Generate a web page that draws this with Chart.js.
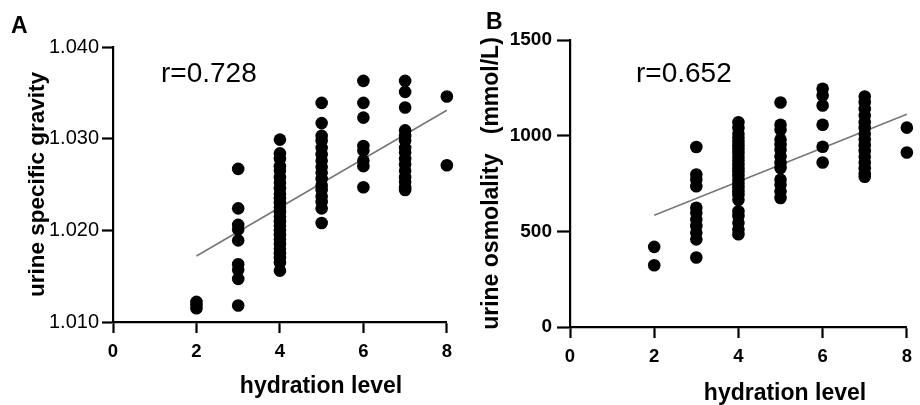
<!DOCTYPE html>
<html>
<head>
<meta charset="utf-8">
<script src="https://cdn.jsdelivr.net/npm/chart.js@4.4.1/dist/chart.umd.min.js"></script>
<style>
  body { margin: 0; background: #fff; }
  #wrap { position: relative; width: 920px; height: 405px; font-family: "Liberation Sans", Arial, sans-serif; color: #000; }
  canvas { position: absolute; top: 0; }
  #chartA { left: 0; }
  #chartB { left: 460px; }
  .panel { position: absolute; font-weight: bold; font-size: 23px; }
  .rval { position: absolute; font-size: 28px; }
  .xtitle { position: absolute; width: 240px; text-align: center; font-weight: bold; font-size: 23px; line-height: 24px; }
</style>
</head>
<body>
<div id="wrap">
  <canvas id="chartA" width="460" height="405"></canvas>
  <canvas id="chartB" width="460" height="405"></canvas>
  <div class="panel" style="left:11px;top:12px">A</div>
  <div class="panel" style="left:486px;top:8px">B</div>
  <div class="rval" style="left:161px;top:57px">r=0.728</div>
  <div class="rval" style="left:636px;top:57px">r=0.652</div>
  <div class="xtitle" style="left:201px;top:373px">hydration level</div>
  <div class="xtitle" style="left:665px;top:380px">hydration level</div>
</div>
<script>
// hydration levels (x) and values read per level
const levels = [2, 3, 4, 5, 6, 7, 8];

// Panel A - urine specific gravity
const gravity2 = [1.0122, 1.0119, 1.0115];
const gravity3 = [1.0267, 1.0224, 1.0206, 1.0201, 1.0189, 1.0163, 1.0157, 1.0147, 1.0118];
const gravity4 = [1.0299, 1.0284, 1.0278, 1.0270, 1.0265, 1.0258, 1.0252, 1.0246, 1.0240, 1.0235,
                  1.0230, 1.0225, 1.0220, 1.0215, 1.0210, 1.0205, 1.0200, 1.0195, 1.0190, 1.0185,
                  1.0180, 1.0175, 1.0170, 1.0165, 1.0156];
const gravity5 = [1.0339, 1.0317, 1.0303, 1.0298, 1.0290, 1.0283, 1.0276, 1.0269, 1.0263, 1.0256,
                  1.0249, 1.0244, 1.0237, 1.0231, 1.0224, 1.0208];
const gravity6 = [1.0363, 1.0339, 1.0323, 1.0292, 1.0287, 1.0276, 1.0270, 1.0247];
const gravity7 = [1.0363, 1.0351, 1.0334, 1.0309, 1.0303, 1.0298, 1.0290, 1.0285, 1.0278, 1.0272,
                  1.0265, 1.0258, 1.0253, 1.0247, 1.0244];
const gravity8 = [1.0346, 1.0271];
const gravityFitX = [2, 8];
const gravityFitY = [1.0172, 1.0331];
const gravityTicks = [1.010, 1.020, 1.030, 1.040];

// Panel B - urine osmolality
const osmo2 = [419, 323];
const osmo3 = [941, 797, 771, 736, 623, 597, 562, 528, 493, 458, 363];
const osmo4 = [1070, 1040, 1010, 990, 970, 950, 930, 910, 890, 870, 850, 830, 810, 790, 770,
               750, 730, 710, 690, 665, 605, 580, 545, 510, 485];
const osmo5 = [1173, 1057, 1031, 979, 952, 926, 892, 857, 831, 770, 744, 709, 674];
const osmo6 = [1245, 1210, 1158, 1057, 942, 860];
const osmo7 = [1205, 1175, 1140, 1105, 1070, 1040, 1010, 980, 950, 920, 890, 860, 830, 800, 785];
const osmo8 = [1042, 912];
const osmoFitX = [2, 8];
const osmoFitY = [584, 1112];
const osmoTicks = [0, 500, 1000, 1500];

const xTicks = [0, 2, 4, 6, 8];

function toPoints(groups) {
  const pts = [];
  groups.forEach((vals, i) => vals.forEach(v => pts.push({ x: levels[i], y: v })));
  return pts;
}

function fitLine(xs, ys) {
  return xs.map((x, i) => ({ x: x, y: ys[i] }));
}

function makeChart(id, cfg) {
  return new Chart(document.getElementById(id), {
    type: "scatter",
    data: {
      datasets: [{
        data: cfg.points,
        backgroundColor: "#000",
        borderWidth: 0,
        pointRadius: 6.3,
        clip: false
      }, {
        type: "line",
        data: cfg.fit,
        borderColor: "#777",
        borderWidth: 1.6,
        pointRadius: 0,
        fill: false,
        clip: false
      }]
    },
    options: {
      responsive: false,
      animation: false,
      devicePixelRatio: 1,
      layout: { padding: { top: cfg.top, right: cfg.right, left: 0, bottom: 0 } },
      plugins: { legend: { display: false }, tooltip: { enabled: false } },
      scales: {
        x: {
          type: "linear",
          min: 0, max: 8,
          afterFit: s => { s.height = cfg.xHeight; },
          afterBuildTicks: s => { s.ticks = xTicks.map(v => ({ value: v })); },
          border: { display: true, color: "#000", width: 2.2 },
          grid: { drawOnChartArea: false, drawTicks: true, tickLength: 11, tickWidth: 2.2, tickColor: "#000" },
          ticks: { color: "#000", padding: 8, font: { family: "Liberation Sans", size: 18.5, weight: "bold" } },
          title: { display: false }
        },
        y: {
          type: "linear",
          min: cfg.yTicks[0], max: cfg.yTicks[cfg.yTicks.length - 1],
          afterFit: s => { s.width = cfg.yWidth; },
          afterBuildTicks: s => { s.ticks = cfg.yTicks.map(v => ({ value: v })); },
          border: { display: true, color: "#000", width: 2.2 },
          grid: { drawOnChartArea: false, drawTicks: true, tickLength: cfg.yTickLen, tickWidth: 2.2, tickColor: "#000" },
          ticks: {
            color: "#000", padding: cfg.yTickPad,
            font: { family: "Liberation Sans", size: cfg.yTickSize, weight: cfg.yTickWeight },
            callback: cfg.yFormat
          },
          title: {
            display: true, text: cfg.yTitle, color: "#000",
            padding: { top: cfg.yTitlePad, bottom: 0 },
            font: { family: "Liberation Sans", size: cfg.yTitleSize, weight: "bold", lineHeight: 1 }
          }
        }
      }
    }
  });
}

makeChart("chartA", {
  points: toPoints([gravity2, gravity3, gravity4, gravity5, gravity6, gravity7, gravity8]),
  fit: fitLine(gravityFitX, gravityFitY),
  yTicks: gravityTicks,
  yFormat: v => v.toFixed(3),
  yTitle: "urine specific gravity",
  yTitleSize: 22.5,
  yTickSize: 20,
  yTickWeight: "normal",
  yTickLen: 11, yTickPad: 3,
  top: 47, right: 13, yWidth: 113, xHeight: 83,
  yTitlePad: 27
});

makeChart("chartB", {
  points: toPoints([osmo2, osmo3, osmo4, osmo5, osmo6, osmo7, osmo8]),
  fit: fitLine(osmoFitX, osmoFitY),
  yTicks: osmoTicks,
  yFormat: v => String(v),
  yTitle: "urine osmolality   (mmol/L)",
  yTitleSize: 23,
  yTickSize: 19,
  yTickWeight: "bold",
  yTickLen: 13, yTickPad: 5,
  top: 40, right: 7, yWidth: 110, xHeight: 78,
  yTitlePad: 20
});
</script>
</body>
</html>
